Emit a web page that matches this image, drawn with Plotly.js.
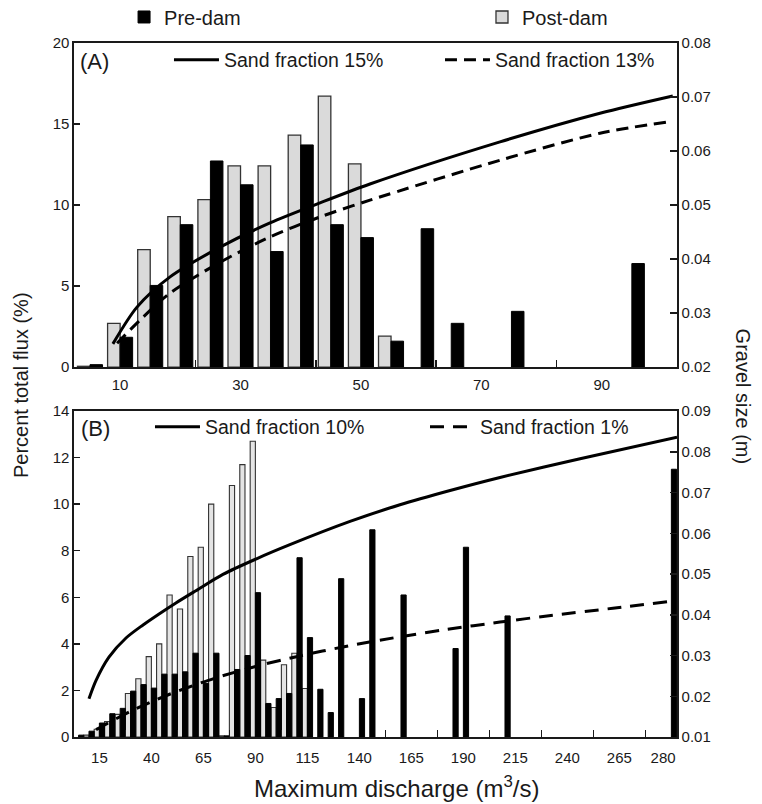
<!DOCTYPE html>
<html>
<head>
<meta charset="utf-8">
<script src="https://cdn.plot.ly/plotly-3.0.1.min.js"></script>
<style>html,body{margin:0;padding:0;background:#fff;}#chart{width:762px;height:804px;}</style>
</head>
<body>
<div id="chart"></div>
<script>
// ---------- Panel A data ----------
const binsA   = [5, 10, 15, 20, 25, 30, 35, 40, 45, 50, 55, 60, 65, 70, 75, 80, 85, 90, 95];
const preDamA = [0.15, 1.84, 5.04, 8.79, 12.72, 11.25, 7.13, 13.71, 8.79, 7.99, 1.60, 8.54, 2.70, null, 3.44, null, null, null, 6.39];
const postDamA= [0.05, 2.70, 7.25, 9.28, 10.33, 12.42, 12.42, 14.32, 16.72, 12.54, 1.91, null, null, null, null, null, null, null, null];

const sand15_x = [8.8, 12.8, 18.3, 26.6, 34.9, 43.2, 51.5, 73.1, 89.7, 101.8];
const sand15_y = [0.0243, 0.0311, 0.0367, 0.0422, 0.0467, 0.0504, 0.0539, 0.0617, 0.0670, 0.0702];
const sand13_x = [9.5, 13.3, 18.3, 26.6, 34.9, 43.2, 51.5, 73.1, 89.7, 101.0];
const sand13_y = [0.0244, 0.0287, 0.0337, 0.0394, 0.0441, 0.0478, 0.0509, 0.0583, 0.0633, 0.0654];

const tickValsA = [10, 30, 50, 70, 90];

// ---------- Panel B data ----------
const binsPreB = [5, 10, 15, 20, 25, 30, 35, 40, 45, 50, 55, 60, 65, 70, 75, 80, 85, 90, 95, 100, 105, 110, 115, 120, 125, 130, 140, 145, 160, 185, 190, 210, 290];
const preDamB  = [0.08, 0.25, 0.6, 1.0, 1.23, 1.97, 2.25, 2.1, 2.7, 2.7, 2.8, 3.6, 2.3, 3.6, 0.05, 2.9, 3.5, 6.2, 1.44, 1.65, 1.87, 7.7, 4.27, 2.05, 1.05, 6.8, 1.65, 8.9, 6.1, 3.8, 8.15, 5.2, 11.5];
const binsPostB = [10, 15, 20, 25, 30, 35, 40, 45, 50, 55, 60, 65, 70, 75, 80, 85, 90, 95, 100, 105, 110, 115];
const postDamB  = [0.08, 0.33, 0.66, 0.97, 1.87, 2.5, 3.45, 4.0, 6.1, 5.5, 7.75, 8.15, 10.0, 0.05, 10.8, 11.7, 12.7, 3.3, 1.27, 3.1, 3.6, 2.08];

const sand10_x = [10, 13.4, 19.6, 27.8, 36.0, 43.7, 51.8, 61.4, 74.4, 90.8, 106.6, 135.5, 159.5, 183.6, 207.6, 246.1, 292.7];
const sand10_y = [0.0194, 0.0239, 0.0296, 0.0343, 0.0375, 0.0402, 0.0429, 0.0459, 0.0499, 0.0538, 0.0572, 0.0629, 0.0670, 0.0705, 0.0737, 0.0783, 0.0836];
const sand1_x = [13.4, 18.7, 31.2, 41.7, 51.3, 60.0, 71.5, 92.2, 111.4, 132.1, 159.5, 182.1, 207.6, 230.2, 261.9, 287.9];
const sand1_y = [0.0118, 0.0133, 0.0166, 0.0190, 0.0210, 0.0226, 0.0246, 0.0276, 0.0299, 0.0321, 0.0346, 0.0364, 0.0382, 0.0397, 0.0416, 0.0432];

const tickTextB = ['15', '40', '65', '90', '115', '140', '165', '190', '215', '240', '265', '280'];
const tickValsB = [15, 40, 65, 90, 115, 140, 165, 190, 215, 240, 265, 286];

// ---------- styling ----------
const FONT = 'Liberation Sans, Arial, Helvetica, sans-serif';
const INK = '#1a1a1a';
const GRAY = '#dadada';
const barWA = 2.08, barWB = 2.5;

const traces = [
  {type:'bar', name:'Post-dam', x:binsA, y:postDamA, xaxis:'x', yaxis:'y',
   width:barWA, offset:-barWA, marker:{color:GRAY, line:{color:'#333', width:1.3}},
   legend:'legend4', showlegend:true},
  {type:'bar', name:'Pre-dam', x:binsA, y:preDamA, xaxis:'x', yaxis:'y',
   width:barWA, offset:0, marker:{color:'#000', line:{color:'#000', width:1}},
   legend:'legend', showlegend:true},
  {type:'scatter', mode:'lines', name:'Sand fraction 15%', x:sand15_x, y:sand15_y, xaxis:'x', yaxis:'y2',
   line:{color:'#000', width:3, shape:'spline', smoothing:0.8}, legend:'legend2'},
  {type:'scatter', mode:'lines', name:'Sand fraction 13%', x:sand13_x, y:sand13_y, xaxis:'x', yaxis:'y2',
   line:{color:'#000', width:3, dash:'12px,7px', shape:'spline', smoothing:0.8}, legend:'legend2'},

  {type:'bar', name:'Post-dam', x:binsPostB, y:postDamB, xaxis:'x2', yaxis:'y3',
   width:barWB, offset:-barWB, marker:{color:'#e4e4e4', line:{color:'#333', width:1.1}}, showlegend:false},
  {type:'bar', name:'Pre-dam', x:binsPreB, y:preDamB, xaxis:'x2', yaxis:'y3',
   width:barWB, offset:0, marker:{color:'#000', line:{color:'#000', width:1}}, showlegend:false},
  {type:'scatter', mode:'lines', name:'Sand fraction 10%', x:sand10_x, y:sand10_y, xaxis:'x2', yaxis:'y4',
   line:{color:'#000', width:3, shape:'spline', smoothing:0.8}, legend:'legend3'},
  {type:'scatter', mode:'lines', name:'Sand fraction 1%', x:sand1_x, y:sand1_y, xaxis:'x2', yaxis:'y4',
   line:{color:'#000', width:3, dash:'14px,9px', shape:'spline', smoothing:0.8}, legend:'legend3'}
];

const tickFont = {family:FONT, size:15, color:INK};
const axLine = {showline:true, linecolor:INK, linewidth:1.6, showgrid:false, zeroline:false};
const legBase = {orientation:'h', xanchor:'left', yanchor:'middle', bgcolor:'rgba(0,0,0,0)', borderwidth:0};

const layout = {
  width:762, height:804,
  margin:{l:74, r:85, t:43, b:67, autoexpand:false},
  paper_bgcolor:'#fff', plot_bgcolor:'#fff',
  font:{family:FONT, color:INK},
  barmode:'overlay',
  xaxis: Object.assign({}, axLine, {anchor:'y', domain:[0,1], range:[2.34, 102.5], mirror:true,
    tickmode:'array', tickvals:tickValsA, ticks:'inside', ticklen:0, tickfont:tickFont, ticklabelstandoff:3,
    minor:{ticks:'inside', ticklen:7, tickwidth:1.5, tickcolor:INK, tick0:2.5, dtick:20, showgrid:false}}),
  yaxis: Object.assign({}, axLine, {anchor:'x', domain:[0.533, 1], range:[0, 20], tickvals:[0,5,10,15,20],
    ticks:'inside', ticklen:6, tickwidth:1.5, tickcolor:INK, tickfont:tickFont}),
  yaxis2: Object.assign({}, axLine, {anchor:'x', overlaying:'y', side:'right', range:[0.02, 0.08],
    tickvals:[0.02,0.03,0.04,0.05,0.06,0.07,0.08], tickformat:'.2f',
    ticks:'inside', ticklen:7, tickwidth:1.5, tickcolor:INK, tickfont:tickFont}),
  xaxis2: Object.assign({}, axLine, {anchor:'y3', domain:[0,1], range:[2.8, 292.7], mirror:true,
    tickmode:'array', tickvals:tickValsB, ticktext:tickTextB, ticks:'inside', ticklen:0, tickfont:tickFont, ticklabelstandoff:6,
    minor:{ticks:'inside', ticklen:7, tickwidth:1.5, tickcolor:INK, tick0:2.5, dtick:25, showgrid:false}}),
  yaxis3: Object.assign({}, axLine, {anchor:'x2', domain:[0, 0.4697], range:[0, 14], tickvals:[0,2,4,6,8,10,12,14],
    ticks:'inside', ticklen:6, tickwidth:1.5, tickcolor:INK, tickfont:tickFont}),
  yaxis4: Object.assign({}, axLine, {anchor:'x2', overlaying:'y3', side:'right', range:[0.01, 0.09],
    tickvals:[0.01,0.02,0.03,0.04,0.05,0.06,0.07,0.08,0.09], tickformat:'.2f',
    ticks:'inside', ticklen:7, tickwidth:1.5, tickcolor:INK, tickfont:tickFont}),
  legend: Object.assign({}, legBase, {x:0.083, y:1.0375, font:{family:FONT, size:20, color:INK}}),
  legend4: Object.assign({}, legBase, {x:0.6766, y:1.0375, font:{family:FONT, size:20, color:INK}}),
  legend2: Object.assign({}, legBase, {x:0.1575, y:0.9755, itemwidth:45, entrywidthmode:'pixels', entrywidth:211,
    font:{family:FONT, size:19.5, color:INK}}),
  legend3: Object.assign({}, legBase, {x:0.126, y:0.4467, itemwidth:45, entrywidthmode:'pixels', entrywidth:215,
    font:{family:FONT, size:19.5, color:INK}}),
  annotations:[
    {text:'(A)', xref:'paper', yref:'paper', x:0.006, y:0.9735, xanchor:'left', yanchor:'middle', showarrow:false,
     font:{family:FONT, size:22, color:INK}},
    {text:'(B)', xref:'paper', yref:'paper', x:0.008, y:0.4445, xanchor:'left', yanchor:'middle', showarrow:false,
     font:{family:FONT, size:22, color:INK}},
    {text:'Percent total flux (%)', xref:'paper', yref:'paper', x:-0.088, y:0.507, xanchor:'center', yanchor:'middle',
     textangle:-90, showarrow:false, font:{family:FONT, size:20, color:INK}},
    {text:'Gravel size (m)', xref:'paper', yref:'paper', x:1.11, y:0.49, xanchor:'center', yanchor:'middle',
     textangle:90, showarrow:false, font:{family:FONT, size:20, color:INK}},
    {text:'Maximum discharge (m<sup>3</sup>/s)', xref:'paper', yref:'paper', x:0.534, y:-0.0725, xanchor:'center', yanchor:'middle',
     showarrow:false, font:{family:FONT, size:24, color:INK}}
  ]
};

Plotly.newPlot('chart', traces, layout, {staticPlot:true, displayModeBar:false});
</script>
</body>
</html>
